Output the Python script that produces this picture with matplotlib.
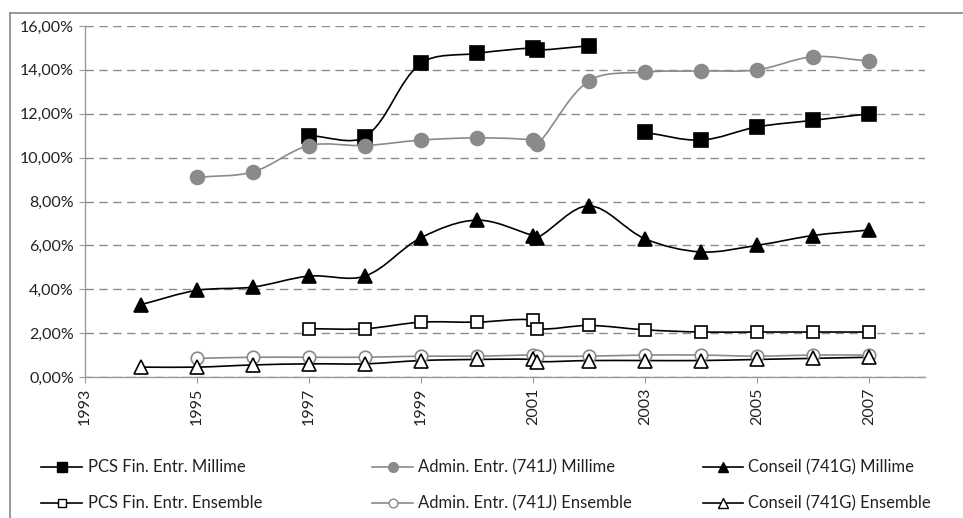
import numpy as np
import matplotlib
matplotlib.use("Agg")
import matplotlib.pyplot as plt
from matplotlib.path import Path
from matplotlib.patches import PathPatch
from matplotlib.lines import Line2D
from matplotlib.ticker import FuncFormatter, MultipleLocator, FixedLocator

plt.rcParams['font.family'] = ['Lato', 'DejaVu Sans']

# Years (2001 appears twice: two surveys in the same year)
years = [1994, 1995, 1996, 1997, 1998, 1999, 2000, 2001, 2001.08,
         2002, 2003, 2004, 2005, 2006, 2007]

nan = np.nan
# Shares in percent
pcs_millime = [nan, nan, nan, 11.0, 10.95, 14.3, 14.75, 15.0, 14.9,
               15.1, nan, 11.15, 10.8, 11.4, 11.7, 12.0]
admin_millime = [nan, 9.1, 9.35, 10.55, 10.55, 10.8, 10.9, 10.8, 10.6,
                 13.5, 13.9, 13.95, 14.0, 14.6, 14.4]
conseil_millime = [3.3, 3.95, 4.1, 4.6, 4.6, 6.35, 7.15, 6.45, 6.35,
                   7.8, 6.3, 5.7, 6.0, 6.45, 6.7]
pcs_ensemble = [nan, nan, nan, 2.2, 2.2, 2.5, 2.5, 2.6, 2.2,
                2.35, 2.15, 2.05, 2.05, 2.05, 2.05]
admin_ensemble = [nan, 0.85, 0.9, 0.9, 0.9, 0.95, 0.95, 1.0, 0.95,
                  0.95, 1.0, 1.0, 0.95, 1.0, 1.0]
conseil_ensemble = [0.45, 0.45, 0.55, 0.6, 0.6, 0.75, 0.8, 0.8, 0.7,
                    0.75, 0.75, 0.75, 0.8, 0.85, 0.9]

# PCS Millime has a break between 2002 and 2003
pcs_years = [1994, 1995, 1996, 1997, 1998, 1999, 2000, 2001, 2001.08,
             2002, 2002.5, 2003, 2004, 2005, 2006, 2007]

x_ticks = [1993, 1995, 1997, 1999, 2001, 2003, 2005, 2007]

labels = ["PCS Fin. Entr. Millime", "Admin. Entr. (741J) Millime",
          "Conseil (741G) Millime", "PCS Fin. Entr. Ensemble",
          "Admin. Entr. (741J) Ensemble", "Conseil (741G) Ensemble"]

GRAY = "#8a8a8a"
styles = [
    dict(color="black", marker="s", mfc="black", mec="black", ms=9.5),
    dict(color=GRAY, marker="o", mfc=GRAY, mec=GRAY, ms=10),
    dict(color="black", marker="^", mfc="black", mec="black", ms=10.5),
    dict(color="black", marker="s", mfc="white", mec="black", ms=9),
    dict(color=GRAY, marker="o", mfc="white", mec=GRAY, ms=9),
    dict(color="black", marker="^", mfc="white", mec="black", ms=10),
]
series = [(pcs_years, pcs_millime), (years, admin_millime),
          (years, conseil_millime), (years, pcs_ensemble),
          (years, admin_ensemble), (years, conseil_ensemble)]

W, H = 963, 518
fig = plt.figure(figsize=(W / 100, H / 100), dpi=100)


def fx(px):
    return px / W


def fy(py):
    return 1 - py / H


ax = fig.add_axes([fx(85), fy(377), fx(925) - fx(85), fy(26) - fy(377)])
ax.set_xlim(1993, 2008)
ax.set_ylim(0, 16)

# pixel size of one data unit, used to weight the spline tangents
SX = 840 / 15.0
SY = 351 / 16.0


def smooth_path(xs, ys):
    """Smoothed curve through the points (length-weighted Catmull-Rom),
    split into separate pieces at NaN values."""
    xs = np.asarray(xs, float)
    ys = np.asarray(ys, float)
    verts, codes = [], []
    ok = ~np.isnan(ys)
    runs, cur = [], []
    for i in range(len(xs)):
        if ok[i]:
            cur.append(i)
        elif cur:
            runs.append(cur)
            cur = []
    if cur:
        runs.append(cur)

    def dist(a, b):
        return np.hypot((a[0] - b[0]) * SX, (a[1] - b[1]) * SY)

    for run in runs:
        P = np.column_stack([xs[run], ys[run]])
        n = len(P)
        if n < 2:
            continue
        verts.append(P[0]); codes.append(Path.MOVETO)
        for i in range(n - 1):
            p0 = P[i - 1] if i > 0 else P[i]
            p1, p2 = P[i], P[i + 1]
            p3 = P[i + 2] if i + 2 < n else P[i + 1]
            d01, d12, d23 = dist(p0, p1), dist(p1, p2), dist(p2, p3)
            f1 = d12 / (d01 + d12) / 3.0 if d01 + d12 > 0 else 0
            f2 = d12 / (d12 + d23) / 3.0 if d12 + d23 > 0 else 0
            c1 = p1 + (p2 - p0) * f1
            c2 = p2 - (p3 - p1) * f2
            verts += [c1, c2, p2]
            codes += [Path.CURVE4] * 3
    return Path(verts, codes)


for (xs, ys), st in zip(series, styles):
    patch = PathPatch(smooth_path(xs, ys), facecolor="none",
                      edgecolor=st["color"], lw=1.2, zorder=3,
                      capstyle="round", joinstyle="round")
    ax.add_patch(patch)
    ax.plot(xs, ys, linestyle="none", marker=st["marker"], ms=st["ms"],
            mfc=st["mfc"], mec=st["mec"], mew=1.2, zorder=4, clip_on=False)

ax.yaxis.set_major_locator(MultipleLocator(2))
ax.xaxis.set_major_locator(FixedLocator(x_ticks))
ax.yaxis.set_major_formatter(
    FuncFormatter(lambda v, p: f"{v:.2f}%".replace(".", ",")))
ax.xaxis.set_major_formatter(FuncFormatter(lambda v, p: f"{int(round(v))}"))
ax.grid(axis="y", color="#8c8c8c", linestyle=(0, (6, 4)), lw=1.0)
ax.set_axisbelow(True)
for s in ("top", "right"):
    ax.spines[s].set_visible(False)
for s in ("left", "bottom"):
    ax.spines[s].set_color("#9a9a9a")
    ax.spines[s].set_linewidth(1.0)
ax.tick_params(axis="both", direction="out", length=4, color="#9a9a9a",
               labelsize=11.5, pad=4, labelcolor="#222222")
plt.setp(ax.get_xticklabels(), rotation=90)

# Outer chart frame (top and left edges)
fig.add_artist(Line2D([fx(10), 1], [fy(13), fy(13)], color="#909090", lw=1.3,
                      transform=fig.transFigure))
fig.add_artist(Line2D([fx(10), fx(10)], [fy(13), 0], color="#909090", lw=1.3,
                      transform=fig.transFigure))

# Legend, 2 rows x 3 columns
col_x = [(41, 82, 88), (372, 413, 418), (703, 743, 748)]
row_y = [467, 503]
for k, (lab, st) in enumerate(zip(labels, styles)):
    r, c = divmod(k, 3)
    x0, x1, xt = col_x[c]
    y = row_y[r]
    fig.add_artist(Line2D([fx(x0), fx(x1)], [fy(y), fy(y)], color=st["color"],
                          lw=1.2, transform=fig.transFigure))
    fig.add_artist(Line2D([fx((x0 + x1) / 2)], [fy(y)], linestyle="none",
                          marker=st["marker"], ms=st["ms"] * 0.7,
                          mfc=st["mfc"], mec=st["mec"], mew=1.0,
                          transform=fig.transFigure))
    fig.text(fx(xt), fy(y), lab, fontsize=12, va="center", ha="left",
             color="#222222")

fig.savefig("out.png", dpi=100)
